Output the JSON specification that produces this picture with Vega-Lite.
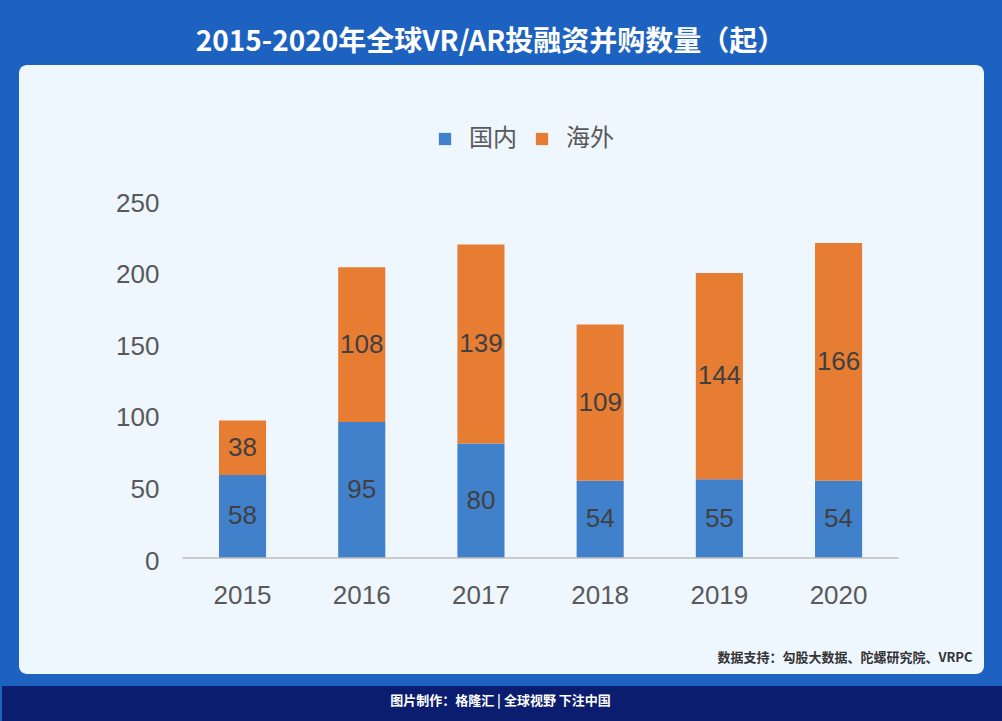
{
  "$schema": "https://vega.github.io/schema/vega-lite/v6.json",
  "width": 965,
  "height": 609,
  "autosize": {"type": "none"},
  "padding": {"left": 19, "top": 65, "right": 18, "bottom": 47},
  "background": "#1d62c0",
  "config": {
    "view": {"fill": "#eef6fe", "stroke": null, "cornerRadius": 8},
    "font": "Liberation Sans"
  },
  "title": {
    "text": "2015-2020年全球VR/AR投融资并购数量（起）",
    "font": "Noto Sans CJK SC",
    "fontSize": 28,
    "fontWeight": "bold",
    "color": "#ffffff",
    "anchor": "middle",
    "dx": -11,
    "offset": 8
  },
  "data": {
    "values": [
      {"year": "2015", "type": "国内", "value": 58},
      {"year": "2015", "type": "海外", "value": 38},
      {"year": "2016", "type": "国内", "value": 95},
      {"year": "2016", "type": "海外", "value": 108},
      {"year": "2017", "type": "国内", "value": 80},
      {"year": "2017", "type": "海外", "value": 139},
      {"year": "2018", "type": "国内", "value": 54},
      {"year": "2018", "type": "海外", "value": 109},
      {"year": "2019", "type": "国内", "value": 55},
      {"year": "2019", "type": "海外", "value": 144},
      {"year": "2020", "type": "国内", "value": 54},
      {"year": "2020", "type": "海外", "value": 166}
    ]
  },
  "transform": [
    {"stack": "value", "groupby": ["year"], "sort": [{"field": "type", "order": "ascending"}], "as": ["v0", "v1"]},
    {"calculate": "(datum.v0 + datum.v1) / 2", "as": "mid"}
  ],
  "encoding": {
    "x": {
      "field": "year",
      "type": "nominal",
      "scale": {
        "domain": [" ", "2015", "2016", "2017", "2018", "2019", "2020", "  "],
        "paddingInner": 0.605,
        "paddingOuter": 0.35,
        "align": 0.968
      },
      "axis": {
        "orient": "bottom",
        "offset": 29,
        "domain": true,
        "domainColor": "#0b1d6e",
        "domainWidth": 35,
        "domainCap": "square",
        "ticks": false,
        "grid": false,
        "labelAngle": 0,
        "labelPadding": -121,
        "labelFontSize": 26,
        "labelColor": "#595959",
        "title": "图片制作：格隆汇  |  全球视野 下注中国",
        "titleFont": "Noto Sans CJK SC",
        "titleFontSize": 13,
        "titleFontWeight": "bold",
        "titleColor": "#ffffff",
        "titleBaseline": "middle",
        "titleAnchor": "start",
        "titleAlign": "center",
        "titleX": 481,
        "titleY": -3
      }
    }
  },
  "layer": [
    {
      "mark": {"type": "bar"},
      "encoding": {
        "y": {
          "field": "v0",
          "type": "quantitative",
          "scale": {"domain": [-81, 344.3], "nice": false, "zero": false},
          "axis": {
            "orient": "left",
            "offset": -140,
            "values": [0, 50, 100, 150, 200, 250],
            "domain": false,
            "ticks": false,
            "grid": false,
            "labelPadding": 0,
            "labelOffset": 3,
            "labelFontSize": 26,
            "labelColor": "#595959",
            "title": "数据支持：勾股大数据、陀螺研究院、VRPC",
            "titleFont": "Noto Sans CJK SC",
            "titleFontSize": 13,
            "titleFontWeight": "bold",
            "titleColor": "#333333",
            "titleAngle": 0,
            "titleAlign": "right",
            "titleBaseline": "middle",
            "titleX": 813,
            "titleY": 592
          }
        },
        "y2": {"field": "v1"},
        "color": {
          "field": "type",
          "type": "nominal",
          "scale": {"domain": ["国内", "海外"], "range": ["#4180cb", "#e77d33"]},
          "legend": {
            "orient": "none",
            "legendX": 414,
            "legendY": 62,
            "direction": "horizontal",
            "title": null,
            "symbolType": "square",
            "symbolSize": 150,
            "symbolStrokeWidth": 0,
            "labelFont": "Noto Sans CJK SC",
            "labelFontSize": 24,
            "labelColor": "#595959",
            "labelOffset": 12,
            "columnPadding": 13
          }
        }
      }
    },
    {
      "mark": {"type": "text", "fontSize": 26, "color": "#404040"},
      "encoding": {
        "y": {"field": "mid", "type": "quantitative"},
        "text": {"field": "value", "type": "quantitative"}
      }
    },
    {
      "mark": {"type": "tick", "color": "#bfbfbf", "thickness": 1.5, "size": 120},
      "encoding": {"y": {"datum": 0}}
    }
  ]
}
